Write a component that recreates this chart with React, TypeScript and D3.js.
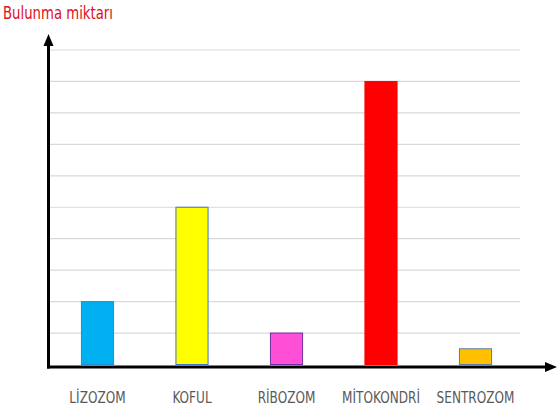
import React from "react";
import * as d3 from "d3";

const categories = ["LİZOZOM", "KOFUL", "RİBOZOM", "MİTOKONDRİ", "SENTROZOM"];
const values = [2, 5, 1, 9, 0.5];
const fills = ["#00B0F0", "#FFFF00", "#FF4FD6", "#FF0000", "#FFC000"];
const strokes = ["#1E90D0", "#4472C4", "#7030A0", "#FF0000", "#5B7BA8"];
const gridTicks = [0, 1, 2, 3, 4, 5, 6, 7, 8, 9, 10];
const title = "Bulunma miktarı";

const W = 557;
const H = 412;
const FONT = "'DejaVu Sans Condensed', 'DejaVu Sans', sans-serif";

export default function App() {
  const x = d3.scaleBand<string>().domain(categories).range([50.25, 522.75]).paddingInner(0.66).paddingOuter(0.33);
  const y = d3.scaleLinear().domain([0, 10]).range([364.5, 50]);
  const axisY = 367;
  const axisX = 48.5;
  return (
    <div style={{ position: "absolute", left: 0, top: 0 }}>
      <svg width={W} height={H} style={{ display: "block", background: "#fff" }}>
        {gridTicks.slice(1).map((t) => (
          <line key={t} x1={axisX} x2={520} y1={y(t)} y2={y(t)} stroke="#d9d9d9" strokeWidth={1.2} />
        ))}
        {categories.map((c, i) => (
          <rect
            key={c}
            x={x(c)!}
            y={y(values[i])}
            width={x.bandwidth()}
            height={y(0) - y(values[i])}
            fill={fills[i]}
            stroke={strokes[i]}
            strokeWidth={1}
          />
        ))}
        <line x1={axisX} x2={axisX} y1={axisY + 1.5} y2={42} stroke="#000" strokeWidth={3} />
        <path d={`M${axisX},34 L${axisX - 5},46 L${axisX + 5},46 Z`} fill="#000" />
        <line x1={axisX - 1.5} x2={548} y1={axisY} y2={axisY} stroke="#000" strokeWidth={3} />
        <path d={`M557,${axisY} L545,${axisY - 5} L545,${axisY + 5} Z`} fill="#000" />
        {categories.map((c) => (
          <g key={c} transform={`translate(${x(c)! + x.bandwidth() / 2},402.5) scale(0.84,1)`}>
            <text textAnchor="middle" fontFamily={FONT} fontSize={16} fill="#595959">
              {c}
            </text>
          </g>
        ))}
        <g transform="translate(3,18.5) scale(0.82,1)">
          <text fontFamily={FONT} fontSize={18} fill="#E0101A">
            {title}
          </text>
        </g>
      </svg>
    </div>
  );
}
